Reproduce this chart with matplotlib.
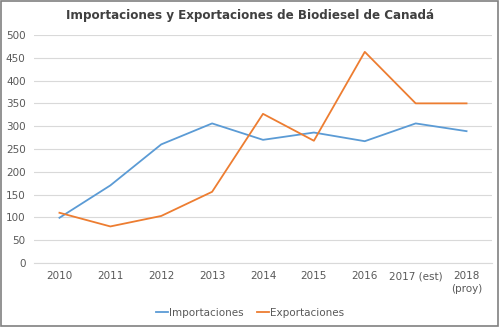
import matplotlib
matplotlib.use('Agg')
import matplotlib.pyplot as plt
from matplotlib.patches import Rectangle

# datos
anios = ["2010", "2011", "2012", "2013", "2014", "2015", "2016", "2017 (est)", "2018\n(proy)"]
importaciones = [99, 170, 260, 306, 270, 286, 267, 306, 289]
exportaciones = [110, 80, 103, 156, 327, 268, 463, 350, 350]

fig = plt.figure(figsize=(5.0, 3.27), dpi=100)
ax = fig.add_axes([0.068, 0.196, 0.916, 0.697])

x = range(len(anios))
ax.plot(x, importaciones, color="#5B9BD5", lw=1.3, label="Importaciones")
ax.plot(x, exportaciones, color="#ED7D31", lw=1.3, label="Exportaciones")

ax.set_xlim(-0.5, len(anios) - 0.5)
ax.set_ylim(0, 500)
ax.set_yticks(range(0, 501, 50))
ax.set_xticks(list(x))
ax.set_xticklabels(anios, linespacing=1.3)
ax.grid(axis="y", color="#d9d9d9", lw=0.8)
ax.set_axisbelow(True)
for s in ["top", "right", "left"]:
    ax.spines[s].set_visible(False)
ax.spines["bottom"].set_color("#d9d9d9")
ax.tick_params(length=0, labelsize=7.5, colors="#595959", pad=6)
ax.tick_params(axis="x", pad=6)

fig.suptitle("Importaciones y Exportaciones de Biodiesel de Canadá", x=0.5, y=0.972,
             fontsize=9.5, fontweight="bold", color="#404040",
             fontstretch="condensed", family=["DejaVu Sans"])

fig.legend(loc="lower center", bbox_to_anchor=(0.5, 0.0), ncol=2, frameon=False,
           fontsize=7.5, labelcolor="#595959", handlelength=1.2, handletextpad=0.1,
           columnspacing=1.2)

fig.patches.append(Rectangle((0.002, 0.003), 0.994, 0.994, transform=fig.transFigure,
                             fill=False, edgecolor="#808080", lw=1.2))

fig.savefig("out.png", dpi=100)
